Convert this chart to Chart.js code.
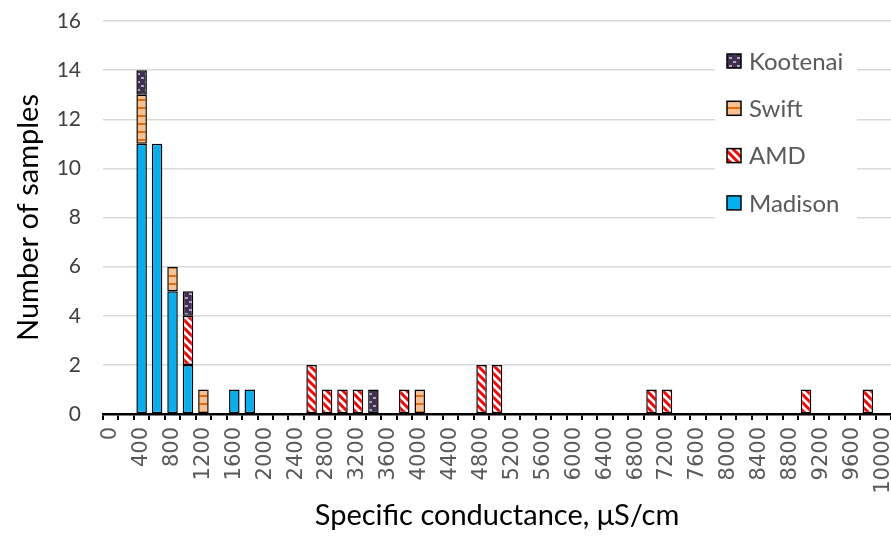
<!DOCTYPE html>
<html lang="en">
<head>
    <meta charset="UTF-8">
    <title>Specific conductance histogram</title>
    <script src="https://cdn.jsdelivr.net/npm/chart.js"></script>
    <style>
        body { margin: 0; background: #fff; }
        #wrap { width: 891px; height: 539px; }
    </style>
</head>
<body>
    <div id="wrap">
        <canvas id="scChart" width="891" height="539"></canvas>
    </div>

    <script>
        // Bins of specific conductance (uS/cm), 200 wide
        const bins = ['0', '200', '400', '600', '800', '1000', '1200', '1400', '1600', '1800',
            '2000', '2200', '2400', '2600', '2800', '3000', '3200', '3400', '3600', '3800',
            '4000', '4200', '4400', '4600', '4800', '5000', '5200', '5400', '5600', '5800',
            '6000', '6200', '6400', '6600', '6800', '7000', '7200', '7400', '7600', '7800',
            '8000', '8200', '8400', '8600', '8800', '9000', '9200', '9400', '9600', '9800',
            '10000'];

        const madison = [0, 0, 11, 11, 5, 2, 0, 0, 1, 1,
            0, 0, 0, 0, 0, 0, 0, 0, 0, 0,
            0, 0, 0, 0, 0, 0, 0, 0, 0, 0,
            0, 0, 0, 0, 0, 0, 0, 0, 0, 0,
            0, 0, 0, 0, 0, 0, 0, 0, 0, 0, 0];
        const amd = [0, 0, 0, 0, 0, 2, 0, 0, 0, 0,
            0, 0, 0, 2, 1, 1, 1, 0, 0, 1,
            0, 0, 0, 0, 2, 2, 0, 0, 0, 0,
            0, 0, 0, 0, 0, 1, 1, 0, 0, 0,
            0, 0, 0, 0, 0, 1, 0, 0, 0, 1, 0];
        const swift = [0, 0, 2, 0, 1, 0, 1, 0, 0, 0,
            0, 0, 0, 0, 0, 0, 0, 0, 0, 0,
            1, 0, 0, 0, 0, 0, 0, 0, 0, 0,
            0, 0, 0, 0, 0, 0, 0, 0, 0, 0,
            0, 0, 0, 0, 0, 0, 0, 0, 0, 0, 0];
        const kootenai = [0, 0, 1, 0, 0, 1, 0, 0, 0, 0,
            0, 0, 0, 0, 0, 0, 0, 1, 0, 0,
            0, 0, 0, 0, 0, 0, 0, 0, 0, 0,
            0, 0, 0, 0, 0, 0, 0, 0, 0, 0,
            0, 0, 0, 0, 0, 0, 0, 0, 0, 0, 0];

        // Fill patterns like the Excel ones
        function makePattern(draw) {
            const c = document.createElement('canvas');
            c.width = 8;
            c.height = 8;
            draw(c.getContext('2d'));
            return c.getContext('2d').createPattern(c, 'repeat');
        }

        const stripeFill = makePattern(g => {
            g.fillStyle = '#ffffff';
            g.fillRect(0, 0, 8, 8);
            g.strokeStyle = '#ff0000';
            g.lineWidth = 3;
            g.beginPath();
            for (let k = -8; k <= 8; k += 8) {
                g.moveTo(k - 2, -2);
                g.lineTo(k + 10, 10);
            }
            g.stroke();
        });

        const swiftFill = makePattern(g => {
            g.fillStyle = '#fac090';
            g.fillRect(0, 0, 8, 8);
            g.fillStyle = '#e46c0a';
            g.fillRect(0, 3, 8, 2);
        });

        const kootenaiFill = makePattern(g => {
            g.fillStyle = '#403151';
            g.fillRect(0, 0, 8, 8);
            g.fillStyle = '#b3a2c7';
            g.fillRect(1, 1, 3, 2);
            g.fillRect(5, 5, 3, 2);
        });

        const barStyle = {
            borderColor: '#000000',
            borderWidth: 1.5,
            borderSkipped: false,
            barPercentage: 0.68,
            categoryPercentage: 1.0
        };

        // Legend drawn inside the plot, top right, with a white box behind it
        const sideLegend = {
            id: 'sideLegend',
            afterDraw(chart) {
                const g = chart.ctx;
                const sets = chart.data.datasets.slice().reverse();
                g.save();
                g.fillStyle = '#ffffff';
                g.fillRect(715, 25, 142, 201);
                g.font = '24px Lato';
                g.textBaseline = 'middle';
                sets.forEach((ds, i) => {
                    const cy = 61 + i * 47.3;
                    g.fillStyle = ds.backgroundColor;
                    g.fillRect(727, cy - 7, 14, 14);
                    g.strokeStyle = '#000000';
                    g.lineWidth = 1.5;
                    g.strokeRect(727, cy - 7, 14, 14);
                    g.fillStyle = '#595959';
                    g.fillText(ds.label, 749, cy + 1);
                });
                g.restore();
            }
        };

        const ctx = document.getElementById('scChart').getContext('2d');
        const chart = new Chart(ctx, {
            type: 'bar',
            data: {
                labels: bins,
                datasets: [
                    { label: 'Madison', data: madison, backgroundColor: '#00b0f0', ...barStyle },
                    { label: 'AMD', data: amd, backgroundColor: stripeFill, ...barStyle },
                    { label: 'Swift', data: swift, backgroundColor: swiftFill, ...barStyle },
                    { label: 'Kootenai', data: kootenai, backgroundColor: kootenaiFill, ...barStyle }
                ]
            },
            options: {
                responsive: false,
                animation: false,
                devicePixelRatio: 1,
                layout: { padding: { top: 21, right: 0, left: 0, bottom: 0 } },
                plugins: {
                    legend: { display: false },
                    tooltip: { enabled: false }
                },
                scales: {
                    x: {
                        stacked: true,
                        border: { display: true, color: '#000000', width: 2.5 },
                        grid: {
                            offset: true,
                            drawOnChartArea: false,
                            drawTicks: true,
                            tickLength: 6,
                            color: '#000000',
                            lineWidth: 2
                        },
                        ticks: {
                            autoSkip: false,
                            minRotation: 90,
                            maxRotation: 90,
                            padding: 7,
                            color: '#595959',
                            font: { family: 'DejaVu Sans', size: 21 },
                            callback: function (val, idx) {
                                return idx % 2 === 0 ? this.getLabelForValue(val) : '';
                            }
                        },
                        title: {
                            display: true,
                            text: 'Specific conductance, \u03bcS/cm',
                            color: '#000000',
                            font: { family: 'Lato', size: 29 },
                            padding: { top: 0, bottom: 6 }
                        },
                        afterFit: s => {
                            s.height = 125;
                            s.paddingRight = 0;
                            s.paddingLeft = 0;
                        }
                    },
                    y: {
                        stacked: true,
                        min: 0,
                        max: 16,
                        border: { display: false },
                        grid: { color: '#d9d9d9', lineWidth: 1.5, drawTicks: false },
                        ticks: {
                            stepSize: 2,
                            padding: 22,
                            color: '#404040',
                            font: { family: 'Lato', size: 21 }
                        },
                        title: {
                            display: true,
                            text: 'Number of samples',
                            color: '#000000',
                            font: { family: 'Lato', size: 29 },
                            padding: { top: 11, bottom: 0 }
                        },
                        afterFit: s => {
                            s.width = 103;
                            s.paddingTop = 0;
                            s.paddingBottom = 0;
                        }
                    }
                }
            },
            plugins: [sideLegend]
        });
    </script>
</body>
</html>
